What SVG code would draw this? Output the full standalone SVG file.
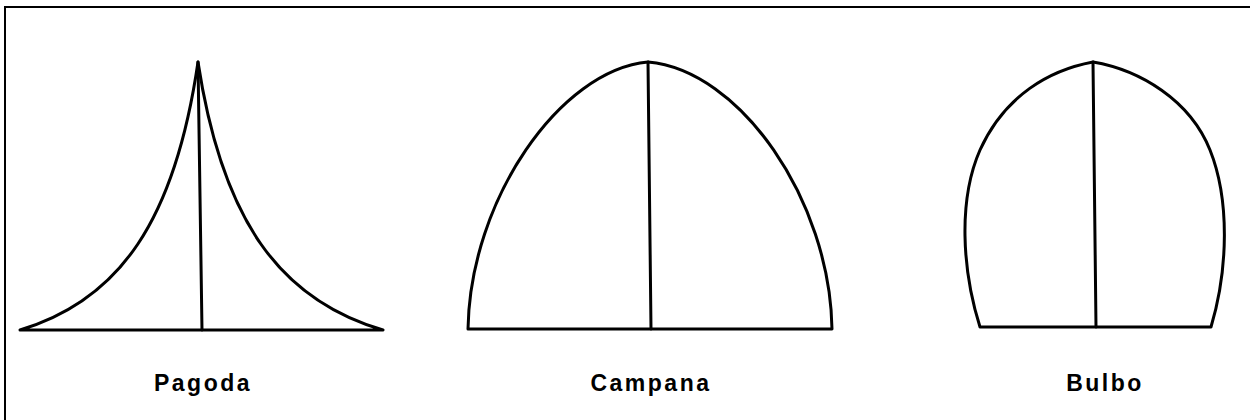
<svg xmlns="http://www.w3.org/2000/svg" width="1250" height="420" viewBox="0 0 1250 420">
<style>
.shape{fill:none;stroke:#000;stroke-width:3;stroke-linejoin:round;stroke-linecap:round}
.frame{fill:none;stroke:#000;stroke-width:2}
.lbl{font-family:"Liberation Sans",Arial,sans-serif;font-weight:bold;font-size:23px;letter-spacing:2.5px;text-anchor:middle;fill:#000}
</style>
<rect width="1250" height="420" fill="#fff"/>
<g id="frame">
<path class="frame" d="M5,420 V7 H1250"/>
</g>
<g id="pagoda">
<path class="shape" d="M20,330 C120,300 175,220 198,62 C222,220 280,300 383,330 Z"/>
<path class="shape" d="M198,62 L202,330"/>
<text class="lbl" x="203" y="391">Pagoda</text>
</g>
<g id="campana">
<path class="shape" d="M468,329 C470,200 560,70 648,62 C740,70 830,200 832,329 Z"/>
<path class="shape" d="M648,62 L651,329"/>
<text class="lbl" x="651" y="391">Campana</text>
</g>
<g id="bulbo">
<path class="shape" d="M980,327 C962,270 958,200 980,150 C1005,95 1050,70 1093,62 C1140,70 1190,100 1210,150 C1230,200 1228,270 1211,327 Z"/>
<path class="shape" d="M1093,62 L1096,327"/>
<text class="lbl" x="1105" y="391">Bulbo</text>
</g>
</svg>
